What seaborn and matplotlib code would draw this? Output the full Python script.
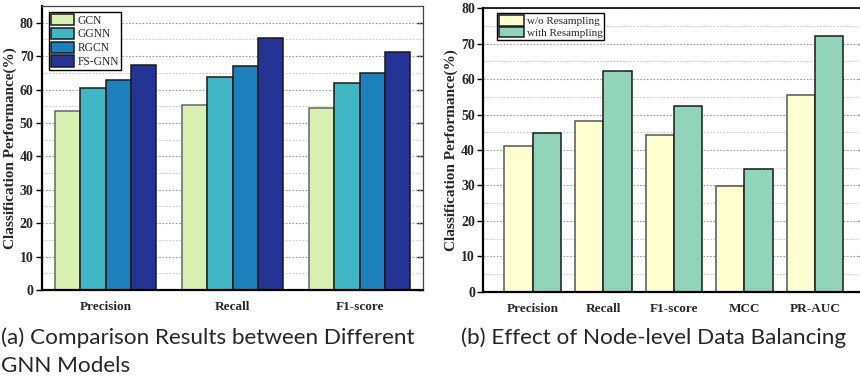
import matplotlib
matplotlib.use("Agg")
import matplotlib.pyplot as plt
import seaborn as sns
import pandas as pd
from matplotlib.ticker import MultipleLocator

# ---- data ----
metrics_a = ["Precision", "Recall", "F1-score"]
models = ["GCN", "GGNN", "RGCN", "FS-GNN"]
gcn = [53.6, 55.4, 54.5]
ggnn = [60.4, 63.8, 62.1]
rgcn = [63.0, 67.1, 65.0]
fsgnn = [67.2, 75.3, 71.1]
colors_a = ["#d9f0b3", "#41b6c4", "#1d80bc", "#253494"]

metrics_b = ["Precision", "Recall", "F1-score", "MCC", "PR-AUC"]
settings = ["w/o Resampling", "with Resampling"]
wo_resampling = [41.0, 48.1, 44.3, 29.7, 55.6]
with_resampling = [44.9, 62.4, 52.3, 34.7, 72.3]
colors_b = ["#ffffd2", "#91d4b9"]

caption_a = ["(a) Comparison Results between Different", "GNN Models"]
caption_b = "(b) Effect of Node-level Data Balancing"
ylabel = "Classification Performance(%)"

sns.set_theme(style="white")
plt.rcParams["font.family"] = ["Liberation Serif", "DejaVu Serif"]

df_a = pd.DataFrame({
    "metric": metrics_a * 4,
    "model": sum([[m] * 3 for m in models], []),
    "value": gcn + ggnn + rgcn + fsgnn,
})
df_b = pd.DataFrame({
    "metric": metrics_b * 2,
    "setting": sum([[s] * 5 for s in settings], []),
    "value": wo_resampling + with_resampling,
})

fig = plt.figure(figsize=(8.6, 3.79), dpi=100)
ax1 = fig.add_axes([42 / 860, 89 / 379, 381 / 860, 284 / 379])
ax2 = fig.add_axes([483.3 / 860, 87.3 / 379, 381.2 / 860, 283.4 / 379])


def style_axes(ax, ymax, xlim):
    ax.set_ylim(0, ymax)
    ax.set_xlim(*xlim)
    ax.yaxis.set_major_locator(MultipleLocator(10))
    ax.yaxis.set_minor_locator(MultipleLocator(5))
    ax.set_axisbelow(True)
    ax.yaxis.grid(True, which="major", linestyle=(0, (1.5, 1.5)), color="#9a9a9a", linewidth=0.8)
    ax.yaxis.grid(True, which="minor", linestyle=(0, (1.5, 1.5)), color="#c8c8c8", linewidth=0.8)
    ax.xaxis.grid(False)
    for side in ["left", "bottom"]:
        ax.spines[side].set_color("black")
        ax.spines[side].set_linewidth(1.6)
    for side in ["top", "right"]:
        ax.spines[side].set_color("#444444")
        ax.spines[side].set_linewidth(0.9)
    ax.tick_params(axis="y", which="major", direction="out", length=4.5, width=1.0,
                   color="black", left=True, right=False, labelsize=10, pad=1.5)
    ax.tick_params(axis="y", which="minor", left=False, right=False)
    ax.tick_params(axis="x", which="both", bottom=False, labelsize=9.5, pad=2)
    for lab in ax.get_yticklabels() + ax.get_xticklabels():
        lab.set_fontweight("bold")
    ax.set_xlabel("")
    ax.set_ylabel(ylabel, fontsize=11, fontweight="bold", labelpad=2)
    sec = ax.secondary_yaxis("right")
    sec.yaxis.set_major_locator(MultipleLocator(10))
    sec.tick_params(axis="y", which="major", direction="in", length=4, width=1.0,
                    color="black", labelright=False)
    sec.tick_params(axis="y", which="minor", right=False)
    sec.spines["right"].set_visible(False)


sns.barplot(data=df_a, x="metric", y="value", hue="model", palette=colors_a,
            saturation=1, width=0.8, edgecolor="#1a1a1a", linewidth=1.1, ax=ax1,
            errorbar=None)
style_axes(ax1, 85, (-0.5, 2.5))
for b in ax1.patches[:3]:
    b.set_edgecolor("#666666")
leg = ax1.legend(loc="upper left", bbox_to_anchor=(0.018, 0.98), fontsize=8.3,
                 frameon=True, fancybox=False, edgecolor="black", framealpha=1,
                 handlelength=2.0, handleheight=1.15, handletextpad=0.3,
                 labelspacing=0.1, borderpad=0.2, borderaxespad=0)
leg.get_frame().set_linewidth(1.0)

sns.barplot(data=df_b, x="metric", y="value", hue="setting", palette=colors_b,
            saturation=1, width=0.8, edgecolor="#1a1a1a", linewidth=1.1, ax=ax2,
            errorbar=None)
style_axes(ax2, 80, (-0.7, 4.7))
for b in ax2.patches[:5]:
    b.set_edgecolor("#555555")
ax2.spines["top"].set_color("black")
ax2.spines["top"].set_linewidth(1.2)
leg2 = ax2.legend(loc="upper left", bbox_to_anchor=(0.037, 0.982), fontsize=8,
                  frameon=True, fancybox=False, edgecolor="black", framealpha=1,
                  handlelength=2.2, handleheight=1.1, handletextpad=0.3,
                  labelspacing=0.05, borderpad=0.15, borderaxespad=0)
leg2.get_frame().set_linewidth(1.0)

cap_font = ["Lato", "DejaVu Sans"]
fig.text(1 / 860, 1 - 338 / 379, caption_a[0], fontsize=16.2, family=cap_font,
         ha="left", va="center")
fig.text(1 / 860, 1 - 366 / 379, caption_a[1], fontsize=16.2, family=cap_font,
         ha="left", va="center")
fig.text(461 / 860, 1 - 338 / 379, caption_b, fontsize=16.2, family=cap_font,
         ha="left", va="center")

fig.savefig("out.png", dpi=100)
